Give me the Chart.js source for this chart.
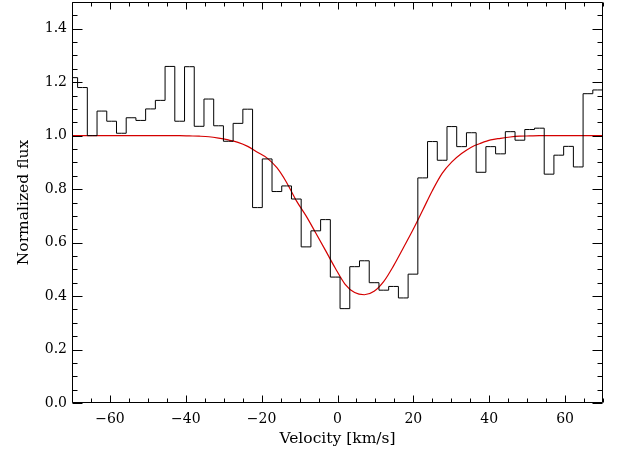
<!DOCTYPE html>
<html>
<head>
<meta charset="utf-8">
<script src="https://cdn.jsdelivr.net/npm/chart.js@4.4.1/dist/chart.umd.min.js"></script>
<style>
  html, body { margin: 0; padding: 0; background: #fff; }
  #wrap { width: 619px; height: 452px; }
</style>
</head>
<body>
<div id="wrap"><canvas id="myChart" width="619" height="452"></canvas></div>
<script>
// Data
// bin centres [km/s]
const velocity = [
  -69.81, -67.24, -64.68, -62.12, -59.55, -56.99, -54.43, -51.87, -49.30, -46.74,
  -44.18, -41.61, -39.05, -36.49, -33.92, -31.36, -28.80, -26.24, -23.67, -21.11,
  -18.55, -15.98, -13.42, -10.86, -8.29, -5.73, -3.17, -0.61, 1.96, 4.52,
  7.08, 9.65, 12.21, 14.77, 17.34, 19.90, 22.46, 25.03, 27.59, 30.15,
  32.71, 35.28, 37.84, 40.40, 42.97, 45.53, 48.09, 50.66, 53.22, 55.78,
  58.34, 60.91, 63.47, 66.03, 68.60, 71.16
];
// observed normalized flux (histogram)
const flux = [
  1.217, 1.180, 1.000, 1.092, 1.054, 1.009, 1.067, 1.057, 1.100, 1.132,
  1.259, 1.054, 1.258, 1.035, 1.137, 1.037, 0.979, 1.046, 1.099, 0.731,
  0.913, 0.791, 0.812, 0.763, 0.584, 0.644, 0.686, 0.471, 0.353, 0.510,
  0.532, 0.450, 0.422, 0.436, 0.393, 0.482, 0.842, 0.978, 0.908, 1.034,
  0.959, 1.011, 0.863, 0.959, 0.932, 1.015, 0.983, 1.023, 1.028, 0.856,
  0.927, 0.960, 0.883, 1.157, 1.171, 1.171
];
// model fit (red)
const model = [
  1.000, 1.000, 1.000, 1.000, 1.000, 1.000, 1.000, 1.000, 1.000, 1.000,
  1.000, 1.000, 0.999, 0.998, 0.996, 0.991, 0.984, 0.975, 0.960, 0.938,
  0.916, 0.880, 0.825, 0.757, 0.700, 0.636, 0.571, 0.505, 0.445, 0.413,
  0.405, 0.418, 0.455, 0.513, 0.580, 0.648, 0.721, 0.795, 0.859, 0.902,
  0.933, 0.957, 0.972, 0.984, 0.990, 0.995, 0.998, 0.999, 1.000, 1.000,
  1.000, 1.000, 1.000, 1.000, 1.000, 1.000
];
// tick labels
const xTickValues = [-60, -40, -20, 0, 20, 40, 60];
const yTickValues = [0.0, 0.2, 0.4, 0.6, 0.8, 1.0, 1.2, 1.4];

const FONT = "'DejaVu Serif', serif";

// frame with inward major/minor ticks on all four sides
const frameTicks = {
  id: 'frameTicks',
  afterDatasetsDraw(chart) {
    const {ctx, chartArea: a, scales: {x, y}} = chart;
    ctx.save();
    ctx.strokeStyle = '#000';
    ctx.lineWidth = 1;
    const L = Math.round(a.left) + 0.5, R = Math.round(a.right) - 0.5;
    const T = Math.round(a.top) + 0.5, B = Math.round(a.bottom) - 0.5;
    ctx.beginPath();
    ctx.rect(L, T, R - L, B - T);
    // x ticks every 5, major every 20
    for (let v = -70; v <= 70; v += 5) {
      const px = Math.round(x.getPixelForValue(v)) + 0.5;
      const len = v % 20 === 0 ? 7 : 4;
      ctx.moveTo(px, B); ctx.lineTo(px, B - len);
      ctx.moveTo(px, T); ctx.lineTo(px, T + len);
    }
    // y ticks every 0.05, major every 0.2
    for (let i = 0; i <= 30; i++) {
      const py = Math.round(y.getPixelForValue(i * 0.05)) + 0.5;
      const len = i % 4 === 0 ? 10 : 5;
      ctx.moveTo(L, py); ctx.lineTo(L + len, py);
      ctx.moveTo(R, py); ctx.lineTo(R - len, py);
    }
    ctx.stroke();
    ctx.restore();
  }
};

const ctx = document.getElementById('myChart').getContext('2d');
const myChart = new Chart(ctx, {
  type: 'line',
  data: {
    datasets: [
      {
        label: 'Flux',
        data: velocity.map((v, i) => ({x: v, y: flux[i]})),
        borderColor: '#000',
        borderWidth: 1,
        stepped: 'middle',
        pointRadius: 0,
        fill: false
      },
      {
        label: 'Model',
        data: velocity.map((v, i) => ({x: v, y: model[i]})),
        borderColor: '#d40000',
        borderWidth: 1.2,
        cubicInterpolationMode: 'monotone',
        pointRadius: 0,
        fill: false
      }
    ]
  },
  options: {
    responsive: false,
    animation: false,
    events: [],
    layout: { padding: { left: 0, right: 16, top: 2, bottom: 0 } },
    plugins: { legend: { display: false }, tooltip: { enabled: false } },
    scales: {
      x: {
        type: 'linear',
        min: -70,
        max: 70,
        grid: { display: false, drawTicks: false },
        border: { display: false },
        afterBuildTicks: (s) => { s.ticks = xTickValues.map(v => ({value: v})); },
        afterFit: (s) => { s.height = 49; s.paddingLeft = 0; s.paddingRight = 0; },
        ticks: {
          padding: 8,
          color: '#000',
          font: { family: FONT, size: 14 },
          maxRotation: 0,
          callback: (v) => (v < 0 ? '\u2212' + Math.abs(v) : String(v))
        },
        title: {
          display: true,
          text: 'Velocity [km/s]',
          color: '#000',
          font: { family: FONT, size: 15.5 },
          padding: { top: 0, bottom: 4 }
        }
      },
      y: {
        min: 0,
        max: 1.5,
        grid: { display: false, drawTicks: false },
        border: { display: false },
        afterBuildTicks: (s) => { s.ticks = yTickValues.map(v => ({value: v})); },
        afterFit: (s) => { s.width = 72; s.paddingTop = 0; s.paddingBottom = 0; },
        ticks: {
          padding: 5,
          color: '#000',
          font: { family: FONT, size: 14 },
          callback: (v) => Number(v).toFixed(1)
        },
        title: {
          display: true,
          text: 'Normalized flux',
          color: '#000',
          font: { family: FONT, size: 15.5 },
          padding: { top: 15, bottom: 0 }
        }
      }
    }
  },
  plugins: [frameTicks]
});
</script>
</body>
</html>
